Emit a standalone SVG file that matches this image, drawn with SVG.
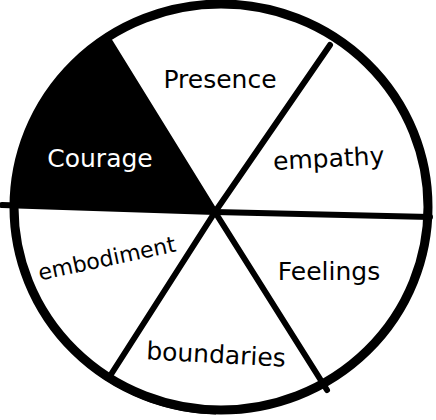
<svg xmlns="http://www.w3.org/2000/svg" width="436" height="420" viewBox="0 0 436 420">
<style>
.ln{stroke:#000;stroke-width:6;stroke-linecap:round;fill:none}
.lb{font-family:"DejaVu Sans","Liberation Sans",sans-serif;font-size:25px;text-anchor:middle;fill:#000}
.w{fill:#fff}
.sm{font-size:22px}
</style>
<rect width="436" height="420" fill="#fff"/>
<g id="courage">
<path d="M215,212 L107,37 A207,203 0 0 0 14,205 L215,212 Z" fill="#000"/>
<text class="lb w" x="100" y="167">Courage</text>
</g>
<g id="connectors">
<path class="ln" d="M2,205 L215,212 L430,217"/>
<path class="ln" d="M110,42 L215,212 L330,45"/>
<path class="ln" d="M110,376 L215,212 L327,390"/>
</g>
<g id="rim">
<ellipse cx="221" cy="207" rx="207" ry="203" fill="none" stroke="#000" stroke-width="9"/>
<path d="M18,250 A207,203 0 0 0 215,410" fill="none" stroke="#000" stroke-width="5" transform="translate(1,2)"/>
</g>
<g id="presence"><text class="lb" x="220" y="88">Presence</text></g>
<g id="empathy"><text class="lb" x="329" y="167" transform="rotate(-3 329 166)">empathy</text></g>
<g id="embodiment"><text class="lb sm" x="107" y="266" transform="rotate(-12 107 259)">embodiment</text></g>
<g id="feelings"><text class="lb" x="329" y="280">Feelings</text></g>
<g id="boundaries"><text class="lb" x="216" y="363" transform="rotate(3 216 356)">boundaries</text></g>
</svg>
